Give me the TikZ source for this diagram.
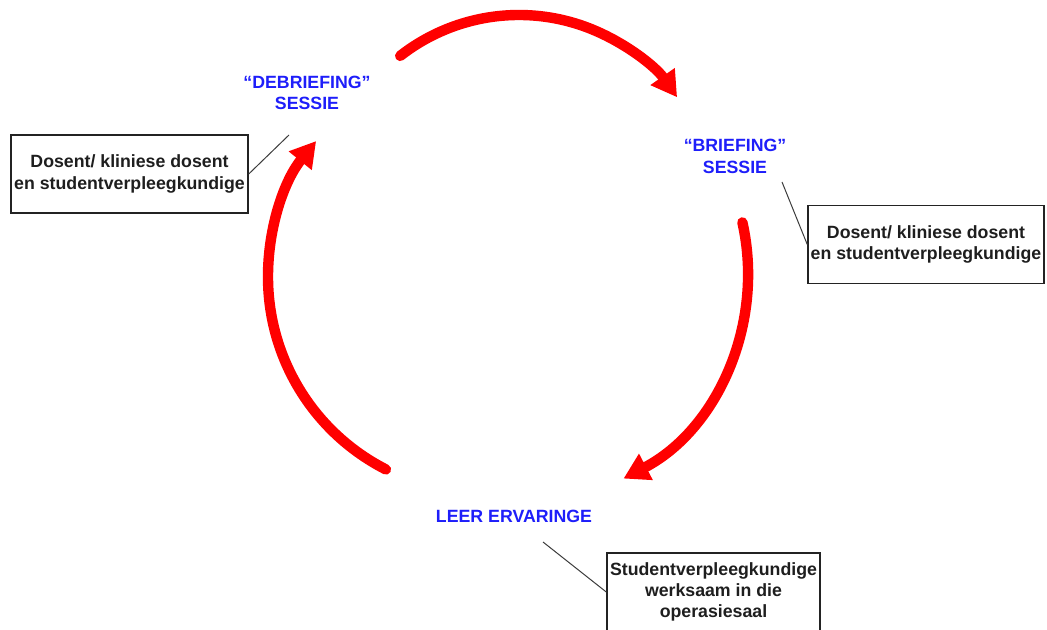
\documentclass[tikz,border=0pt]{standalone}
\usepackage{fontspec}
\setmainfont{Liberation Sans}
\usepackage{tikz}
\usetikzlibrary{arrows.meta}

\begin{document}
\begin{tikzpicture}[x=0.75pt,y=0.75pt,yscale=-1,xscale=1,
  cyclearrow/.style={color={rgb, 255:red, 255; green, 0; blue, 0 }, line width=7.8pt, line cap=round, -{Triangle[length=19pt,width=21pt]}},
  phaselabel/.style={text={rgb, 255:red, 30; green, 30; blue, 250 }, font=\fontsize{13.3}{16}\selectfont\bfseries, align=center, inner sep=0.75pt},
  rolebox/.style={draw={rgb, 255:red, 35; green, 35; blue, 35 }, text={rgb, 255:red, 30; green, 30; blue, 30 }, line width=1.1pt, font=\fontsize{13.3}{16}\selectfont\bfseries, align=center, inner sep=0pt, minimum height=58.5pt},
  leader/.style={draw={rgb, 255:red, 60; green, 60; blue, 60 }, line width=0.75pt}]
\useasboundingbox (0,0) rectangle (1047,630);

%Curve Lines (cycle)
\draw [cyclearrow] (519,208) ++(-128:193) arc [start angle=-128, end angle=-35, radius=193];
\draw [cyclearrow] (516,273) ++(-12.6:232) arc [start angle=-12.6, end angle=62.4, radius=232];
\draw [cyclearrow] (484,277) ++(117:216) arc [start angle=117, end angle=219, radius=216];

% Text Node
\node [phaselabel] (debrief) at (307,93) {“DEBRIEFING”\\SESSIE};
% Text Node
\node [phaselabel] (brief) at (735,156.5) {“BRIEFING”\\SESSIE};
% Text Node
\node [phaselabel] (leer) at (514,516) {LEER ERVARINGE};

%Shape: Rectangle
\node [rolebox, minimum width=177.75pt] (debriefbox) at (129.5,174) {Dosent/ kliniese dosent\\en studentverpleegkundige};
%Shape: Rectangle
\node [rolebox, minimum width=177pt] (briefbox) at (926,244.5) {Dosent/ kliniese dosent\\en studentverpleegkundige};
%Shape: Rectangle
\node [rolebox, minimum width=159.75pt] (leerbox) at (713.5,592) {Studentverpleegkundige\\werksaam in die\\operasiesaal};

%Straight Lines
\coordinate (debriefpin) at (289,135);
\coordinate (briefpin) at (782,182);
\coordinate (leerpin) at (543,542);
\draw [leader] (debriefpin) -- (debriefbox.east);
\draw [leader] (briefpin) -- (briefbox.west);
\draw [leader] (leerpin) -- (leerbox.west);

\end{tikzpicture}
\end{document}
